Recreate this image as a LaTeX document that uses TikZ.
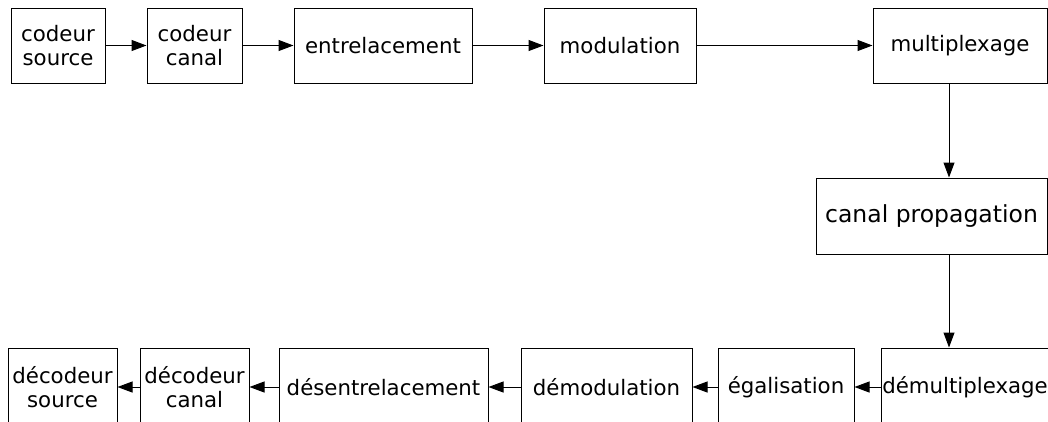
\documentclass[tikz,border=0pt]{standalone}
\usepackage{fontspec}
\setmainfont{DejaVu Sans}
\usetikzlibrary{arrows.meta}
\begin{document}
\begin{tikzpicture}[x=1pt,y=-1pt,
  blk/.style={draw=black,line width=1pt,inner sep=0pt,align=center,font=\fontsize{21.3}{24}\selectfont},
  conn/.style={draw=black,line width=1pt,-{Triangle[length=15pt,width=11pt]}}]
\useasboundingbox (0,0) rectangle (1048,421);
\clip (0,0) rectangle (1048,421);
% top row
\node[blk,minimum width=94pt,minimum height=75pt] (cs) at (58,45.5) {codeur\\source};
\node[blk,minimum width=95pt,minimum height=75pt] (cc) at (194.5,45.5) {codeur\\canal};
\node[blk,minimum width=178pt,minimum height=75pt] (ent) at (383,45.5) {entrelacement};
\node[blk,minimum width=152pt,minimum height=75pt] (mod) at (620,45.5) {modulation};
\node[blk,minimum width=174pt,minimum height=75pt] (mux) at (960,45.5) {multiplexage};
% channel
\node[blk,minimum width=231pt,minimum height=76pt,font=\fontsize{23.5}{26}\selectfont] (can) at (931.5,216) {canal propagation};
% bottom row
\node[blk,minimum width=109pt,minimum height=78pt] (ds) at (62.5,387) {décodeur\\source};
\node[blk,minimum width=109pt,minimum height=78pt] (dc) at (194.5,387) {décodeur\\canal};
\node[blk,minimum width=209pt,minimum height=78pt] (des) at (383.5,387) {désentrelacement};
\node[blk,minimum width=171pt,minimum height=78pt] (dem) at (606.5,387) {démodulation};
\node[blk,minimum width=136pt,minimum height=78pt] (ega) at (786,387) {égalisation};
\node[blk,minimum width=168pt,minimum height=78pt] (dmx) at (965,387) {démultiplexage};
\coordinate (v) at (949,0);
% connectors
\draw[conn] (cs) -- (cc);
\draw[conn] (cc) -- (ent);
\draw[conn] (ent) -- (mod);
\draw[conn] (mod) -- (mux);
\draw[conn] (mux.south -| v) -- (can.north -| v);
\draw[conn] (can.south -| v) -- (dmx.north -| v);
\draw[conn] (dmx) -- (ega);
\draw[conn] (ega) -- (dem);
\draw[conn] (dem) -- (des);
\draw[conn] (des) -- (dc);
\draw[conn] (dc) -- (ds);
\end{tikzpicture}
\end{document}
